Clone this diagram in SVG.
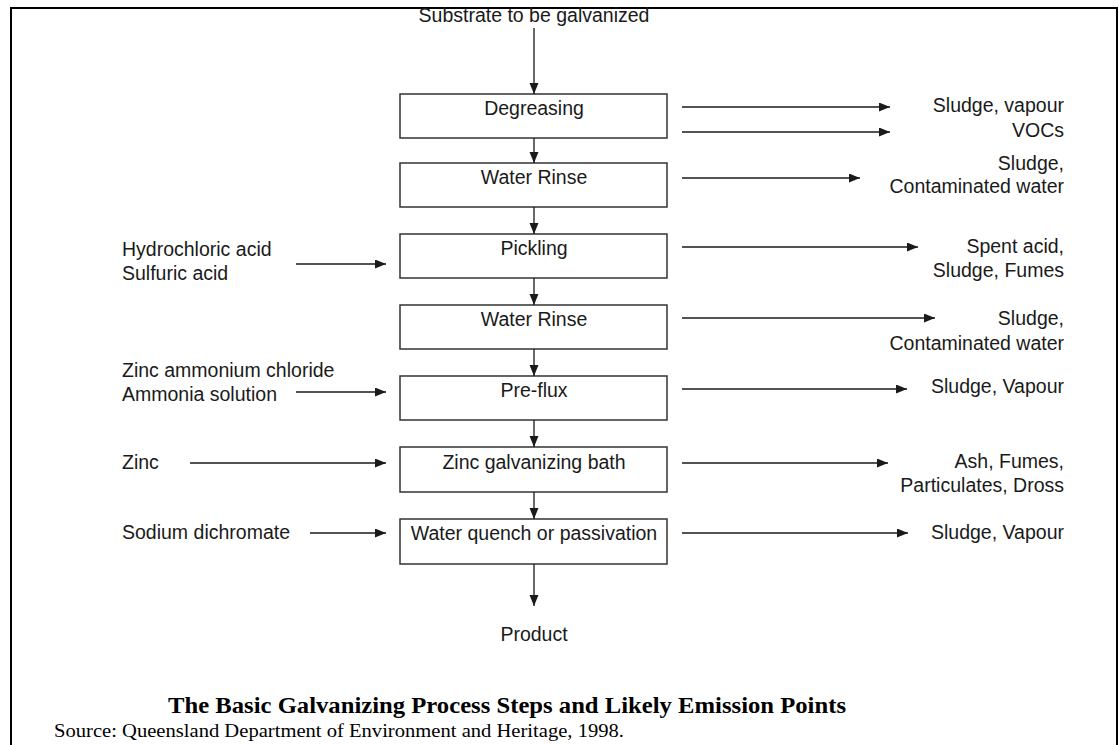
<svg xmlns="http://www.w3.org/2000/svg" width="1119" height="745" viewBox="0 0 1119 745">
<defs>
<style>
.t{font-family:"Liberation Sans",Arial,sans-serif;font-size:19.5px;fill:#1a1a1a}
.m{text-anchor:middle}
.e{text-anchor:end}
.box{fill:#fff;stroke:#333;stroke-width:1.5}
.ln{stroke:#1a1a1a;stroke-width:1.3;fill:none;marker-end:url(#ah)}
.cap{font-family:"Liberation Serif","Times New Roman",serif;fill:#000}
</style>
<marker id="ah" markerUnits="userSpaceOnUse" markerWidth="12" markerHeight="10" refX="11" refY="4.5" orient="auto">
<path d="M0,0 L11,4.5 L0,9 Z" fill="#1a1a1a"/>
</marker>
</defs>
<rect width="1119" height="745" fill="#fff"/>
<rect x="11" y="8" width="1106" height="760" fill="none" stroke="#000" stroke-width="2"/>

<g id="n-substrate"><text class="t m" x="534" y="22">Substrate to be galvanized</text></g>
<g id="n-degreasing"><rect class="box" x="400" y="94" width="267" height="44"/><text class="t m" x="534" y="115">Degreasing</text></g>
<g id="n-rinse1"><rect class="box" x="400" y="163" width="267" height="44"/><text class="t m" x="534" y="184">Water Rinse</text></g>
<g id="n-pickling"><rect class="box" x="400" y="234" width="267" height="44"/><text class="t m" x="534" y="255">Pickling</text></g>
<g id="n-rinse2"><rect class="box" x="400" y="305" width="267" height="44"/><text class="t m" x="534" y="326">Water Rinse</text></g>
<g id="n-preflux"><rect class="box" x="400" y="376" width="267" height="44"/><text class="t m" x="534" y="397">Pre-flux</text></g>
<g id="n-zincbath"><rect class="box" x="400" y="447" width="267" height="45"/><text class="t m" x="534" y="469">Zinc galvanizing bath</text></g>
<g id="n-quench"><rect class="box" x="400" y="519" width="267" height="45"/><text class="t m" x="534" y="540">Water quench or passivation</text></g>
<g id="n-product"><text class="t m" x="534" y="641">Product</text></g>

<g id="n-in-acid"><text class="t" x="122" y="256">Hydrochloric acid</text><text class="t" x="122" y="280">Sulfuric acid</text></g>
<g id="n-in-flux"><text class="t" x="122" y="377">Zinc ammonium chloride</text><text class="t" x="122" y="401">Ammonia solution</text></g>
<g id="n-in-zinc"><text class="t" x="122" y="469">Zinc</text></g>
<g id="n-in-dichromate"><text class="t" x="122" y="539">Sodium dichromate</text></g>

<g id="n-out-degreasing"><text class="t e" x="1064" y="112">Sludge, vapour</text><text class="t e" x="1064" y="137">VOCs</text></g>
<g id="n-out-rinse1"><text class="t e" x="1064" y="170">Sludge,</text><text class="t e" x="1064" y="193">Contaminated water</text></g>
<g id="n-out-pickling"><text class="t e" x="1064" y="253">Spent acid,</text><text class="t e" x="1064" y="277">Sludge, Fumes</text></g>
<g id="n-out-rinse2"><text class="t e" x="1064" y="325">Sludge,</text><text class="t e" x="1064" y="350">Contaminated water</text></g>
<g id="n-out-preflux"><text class="t e" x="1064" y="393">Sludge, Vapour</text></g>
<g id="n-out-zincbath"><text class="t e" x="1064" y="468">Ash, Fumes,</text><text class="t e" x="1064" y="492">Particulates, Dross</text></g>
<g id="n-out-quench"><text class="t e" x="1064" y="539">Sludge, Vapour</text></g>

<g id="connectors">
<line class="ln" x1="534" y1="28" x2="534" y2="94"/>
<line class="ln" x1="534" y1="138" x2="534" y2="163"/>
<line class="ln" x1="534" y1="207" x2="534" y2="234"/>
<line class="ln" x1="534" y1="278" x2="534" y2="305"/>
<line class="ln" x1="534" y1="349" x2="534" y2="376"/>
<line class="ln" x1="534" y1="420" x2="534" y2="447"/>
<line class="ln" x1="534" y1="492" x2="534" y2="519"/>
<line class="ln" x1="534" y1="564" x2="534" y2="606"/>

<line class="ln" x1="296" y1="264" x2="386" y2="264"/>
<line class="ln" x1="296" y1="392" x2="386" y2="392"/>
<line class="ln" x1="190" y1="463" x2="386" y2="463"/>
<line class="ln" x1="310" y1="533" x2="386" y2="533"/>

<line class="ln" x1="682" y1="107" x2="890" y2="107"/>
<line class="ln" x1="682" y1="132" x2="890" y2="132"/>
<line class="ln" x1="682" y1="178" x2="860" y2="178"/>
<line class="ln" x1="682" y1="247" x2="918" y2="247"/>
<line class="ln" x1="682" y1="318" x2="935" y2="318"/>
<line class="ln" x1="682" y1="389" x2="907" y2="389"/>
<line class="ln" x1="682" y1="463" x2="888" y2="463"/>
<line class="ln" x1="682" y1="533" x2="908" y2="533"/>
</g>

<g id="caption">
<text class="cap" x="168" y="713" font-size="23" font-weight="bold" textLength="678" lengthAdjust="spacingAndGlyphs">The Basic Galvanizing Process Steps and Likely Emission Points</text>
<text class="cap" x="54" y="737" font-size="18" textLength="570" lengthAdjust="spacingAndGlyphs">Source: Queensland Department of Environment and Heritage, 1998.</text>
</g>
</svg>
